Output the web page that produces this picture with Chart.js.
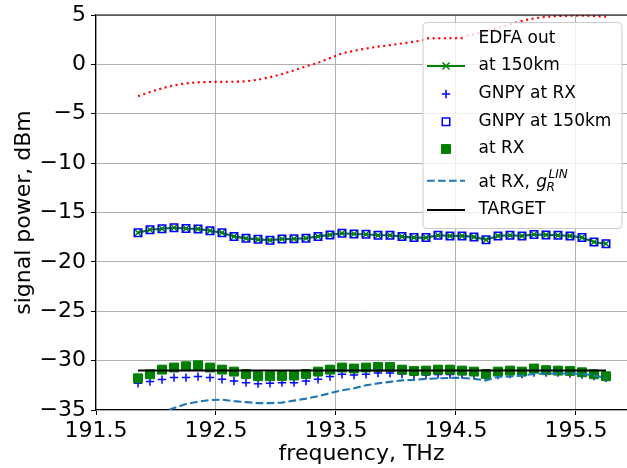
<!DOCTYPE html>
<html>
<head>
<meta charset="utf-8">
<script src="https://cdn.jsdelivr.net/npm/chart.js@4.4.1/dist/chart.umd.min.js"></script>
<style>
  body { margin: 0; background: #fff; }
  canvas { display: block; }
</style>
</head>
<body>
<canvas id="chart" width="627" height="468"></canvas>
<script>
// channel grid, THz
const freqs = [
  191.85, 191.95, 192.05, 192.15, 192.25, 192.35, 192.45, 192.55, 192.65, 192.75,
  192.85, 192.95, 193.05, 193.15, 193.25, 193.35, 193.45, 193.55, 193.65, 193.75,
  193.85, 193.95, 194.05, 194.15, 194.25, 194.35, 194.45, 194.55, 194.65, 194.75,
  194.85, 194.95, 195.05, 195.15, 195.25, 195.35, 195.45, 195.55, 195.65, 195.75
];

// signal power, dBm
const edfaOut = [
  -3.22, -2.8, -2.42, -2.12, -1.92, -1.82, -1.78, -1.77, -1.76, -1.72,
  -1.55, -1.3, -0.98, -0.6, -0.2, 0.16, 0.64, 1.11, 1.38, 1.6,
  1.8, 1.95, 2.12, 2.3, 2.5, 2.62, 2.72, 2.82, 3.05, 3.35,
  3.7, 4.05, 4.4, 4.66, 4.82, 4.9, 4.92, 4.93, 4.9, 4.83
];
const at150km = [
  -17.05, -16.75, -16.65, -16.55, -16.62, -16.66, -16.85, -17.05, -17.42, -17.62,
  -17.72, -17.8, -17.68, -17.67, -17.6, -17.42, -17.27, -17.1, -17.17, -17.2,
  -17.3, -17.3, -17.44, -17.54, -17.54, -17.3, -17.37, -17.37, -17.47, -17.75,
  -17.37, -17.3, -17.37, -17.23, -17.27, -17.3, -17.37, -17.54, -17.99, -18.16
];
const gnpyAtRx = [
  -32.3, -32.12, -31.92, -31.72, -31.72, -31.62, -31.72, -31.89, -32.06, -32.23,
  -32.33, -32.3, -32.23, -32.23, -32.06, -31.89, -31.62, -31.38, -31.45, -31.38,
  -31.25, -31.25, -31.35, -31.45, -31.45, -31.4, -31.4, -31.4, -31.45, -31.5,
  -31.45, -31.35, -31.35, -31.2, -31.2, -31.2, -31.3, -31.4, -31.55, -31.75
];
const gnpyAt150km = [
  -17.05, -16.75, -16.65, -16.55, -16.62, -16.66, -16.85, -17.05, -17.42, -17.62,
  -17.72, -17.8, -17.68, -17.67, -17.6, -17.42, -17.27, -17.1, -17.17, -17.2,
  -17.3, -17.3, -17.44, -17.54, -17.54, -17.3, -17.37, -17.37, -17.47, -17.75,
  -17.37, -17.3, -17.37, -17.23, -17.27, -17.3, -17.37, -17.54, -17.99, -18.16
];
const atRx = [
  -31.79, -31.38, -30.91, -30.7, -30.57, -30.47, -30.7, -30.91, -31.11, -31.35,
  -31.58, -31.58, -31.55, -31.51, -31.35, -31.11, -30.91, -30.7, -30.8, -30.7,
  -30.64, -30.64, -30.91, -31.04, -31.01, -30.91, -30.91, -31.01, -31.11, -31.35,
  -31.11, -31.01, -31.11, -30.8, -30.97, -31.01, -31.04, -31.18, -31.38, -31.58
];
const atRxGlin = [
  -36.1, -35.6, -35.2, -34.8, -34.4, -34.15, -34.0, -33.95, -34.1, -34.2,
  -34.3, -34.3, -34.25, -34.05, -33.85, -33.6, -33.3, -33.0, -32.8, -32.5,
  -32.3, -32.15, -32.0, -31.95, -31.85, -31.8, -31.75, -31.75, -31.85, -32.0,
  -31.65, -31.6, -31.5, -31.35, -31.3, -31.3, -31.3, -31.35, -31.5, -31.75
];
const targetFreqs = [191.85, 195.75];
const target = [-31, -31];

const xTicks = [191.5, 192.5, 193.5, 194.5, 195.5];
const yTicks = [-35, -30, -25, -20, -15, -10, -5, 0, 5];

function pts(xs, ys) {
  return xs.map((x, i) => ({ x: x, y: ys[i] }));
}

Chart.defaults.font.family = "'DejaVu Sans', sans-serif";
Chart.defaults.color = '#000';

// top spine (matplotlib box)
const topSpine = {
  id: 'topSpine',
  afterDatasetsDraw(chart) {
    const { ctx, chartArea } = chart;
    ctx.save();
    ctx.strokeStyle = '#000';
    ctx.lineWidth = 1.1;
    ctx.beginPath();
    ctx.moveTo(chartArea.left, chartArea.top);
    ctx.lineTo(chartArea.right, chartArea.top);
    ctx.stroke();
    ctx.restore();
  }
};

// matplotlib-like legend box, upper right
const mplLegend = {
  id: 'mplLegend',
  afterDraw(chart) {
    const ctx = chart.ctx;
    const rowY = [38.3, 66, 94, 121.7, 149, 180.7, 210];
    ctx.save();
    ctx.beginPath();
    ctx.roundRect(423, 22.5, 199, 206, 4);
    ctx.fillStyle = 'rgba(255,255,255,0.8)';
    ctx.fill();
    ctx.strokeStyle = '#cccccc';
    ctx.lineWidth = 1;
    ctx.stroke();

    chart.data.datasets.forEach((ds, i) => {
      const y = rowY[i];
      if (ds.showLine) {
        ctx.save();
        ctx.strokeStyle = ds.borderColor;
        ctx.lineWidth = ds.borderWidth;
        ctx.setLineDash(ds.borderDash || []);
        ctx.beginPath();
        ctx.moveTo(427, y);
        ctx.lineTo(465, y);
        ctx.stroke();
        ctx.restore();
      }
      if (ds.pointRadius > 0) {
        ctx.save();
        ctx.fillStyle = ds.pointBackgroundColor;
        ctx.strokeStyle = ds.pointBorderColor;
        ctx.lineWidth = ds.pointBorderWidth;
        Chart.helpers.drawPoint(ctx, {
          pointStyle: ds.pointStyle,
          radius: ds.pointRadius,
          borderWidth: ds.pointBorderWidth,
          rotation: 0
        }, 446, y);
        ctx.restore();
      }
      ctx.fillStyle = '#000';
      const tx = 478.5;
      if (ds.legendMath) {
        const m = ds.legendMath;
        const base = y + 6.2;
        ctx.font = "17px 'DejaVu Sans'";
        ctx.textBaseline = 'alphabetic';
        ctx.textAlign = 'left';
        ctx.fillText(m.base, tx, base);
        const gx = tx + ctx.measureText(m.base).width + 1;
        ctx.font = "italic 17px 'DejaVu Sans'";
        ctx.fillText(m.sym, gx, base);
        const ex = gx + ctx.measureText(m.sym).width;
        ctx.font = "italic 12px 'DejaVu Sans'";
        ctx.fillText(m.sub, ex - 0.5, base + 4);
        ctx.fillText(m.sup, ex + 1.5, base - 8.5);
      } else {
        ctx.font = "17px 'DejaVu Sans'";
        ctx.textBaseline = 'middle';
        ctx.textAlign = 'left';
        ctx.fillText(ds.label, tx, y);
      }
    });
    ctx.restore();
  }
};

const datasets = [
  {
    label: 'EDFA out',
    data: pts(freqs, edfaOut),
    showLine: true,
    borderColor: '#ff0000',
    borderWidth: 2.1,
    borderDash: [2.1, 3.5],
    pointRadius: 0,
    order: 7
  },
  {
    label: 'at 150km',
    data: pts(freqs, at150km),
    showLine: true,
    borderColor: '#008000',
    borderWidth: 2.1,
    pointStyle: 'crossRot',
    pointRadius: 5,
    pointBorderWidth: 1.5,
    pointBorderColor: '#008000',
    pointBackgroundColor: '#008000',
    order: 6
  },
  {
    label: 'GNPY at RX',
    data: pts(freqs, gnpyAtRx),
    showLine: false,
    pointStyle: 'cross',
    pointRadius: 4.2,
    pointBorderWidth: 1.5,
    pointBorderColor: '#0000ff',
    pointBackgroundColor: '#0000ff',
    order: 5
  },
  {
    label: 'GNPY at 150km',
    data: pts(freqs, gnpyAt150km),
    showLine: false,
    pointStyle: 'rect',
    pointRadius: 5.3,
    pointBorderWidth: 1.5,
    pointBorderColor: '#0000ff',
    pointBackgroundColor: 'rgba(0,0,0,0)',
    order: 4
  },
  {
    label: 'at RX',
    data: pts(freqs, atRx),
    showLine: false,
    pointStyle: 'rect',
    pointRadius: 6.3,
    pointBorderWidth: 1,
    pointBorderColor: '#008000',
    pointBackgroundColor: '#008000',
    order: 3
  },
  {
    label: 'at RX, g_R^LIN',
    legendMath: { base: 'at RX, ', sym: 'g', sub: 'R', sup: 'LIN' },
    data: pts(freqs, atRxGlin),
    showLine: true,
    borderColor: '#1f77b4',
    borderWidth: 2.1,
    borderDash: [7.7, 3.3],
    pointRadius: 0,
    order: 2
  },
  {
    label: 'TARGET',
    data: pts(targetFreqs, target),
    showLine: true,
    borderColor: '#000000',
    borderWidth: 2.1,
    pointRadius: 0,
    order: 1
  }
];

new Chart(document.getElementById('chart').getContext('2d'), {
  type: 'scatter',
  data: { datasets: datasets },
  options: {
    responsive: false,
    animation: false,
    layout: { autoPadding: false, padding: { top: 15, right: 0, left: 0, bottom: 0 } },
    plugins: {
      legend: { display: false },
      tooltip: { enabled: false }
    },
    scales: {
      x: {
        type: 'linear',
        min: 191.5,
        max: 195.925,
        afterBuildTicks: (scale) => { scale.ticks = xTicks.map(v => ({ value: v })); },
        afterFit: (scale) => {
          scale.height = 58;
          scale.paddingLeft = 0;
          scale.paddingRight = 0;
        },
        ticks: {
          font: { size: 22 },
          padding: 3,
          maxRotation: 0,
          callback: (v) => v.toFixed(1)
        },
        grid: { color: '#b0b0b0', lineWidth: 1, tickColor: '#000', tickLength: 5 },
        border: { color: '#000', width: 1.1 },
        title: {
          display: true,
          text: 'frequency, THz',
          font: { size: 22 },
          padding: { top: 0, bottom: 1 }
        }
      },
      y: {
        type: 'linear',
        min: -35,
        max: 5,
        afterBuildTicks: (scale) => { scale.ticks = yTicks.map(v => ({ value: v })); },
        afterFit: (scale) => {
          scale.width = 96;
          scale.paddingTop = 0;
          scale.paddingBottom = 0;
        },
        ticks: {
          font: { size: 22 },
          padding: 5,
          callback: (v) => (v < 0 ? '\u2212' + Math.abs(v) : String(v))
        },
        grid: { color: '#b0b0b0', lineWidth: 1, tickColor: '#000', tickLength: 5 },
        border: { color: '#000', width: 1.1 },
        title: {
          display: true,
          text: 'signal power, dBm',
          font: { size: 22 },
          padding: { top: 11, bottom: 0 }
        }
      }
    }
  },
  plugins: [topSpine, mplLegend]
});
</script>
</body>
</html>
